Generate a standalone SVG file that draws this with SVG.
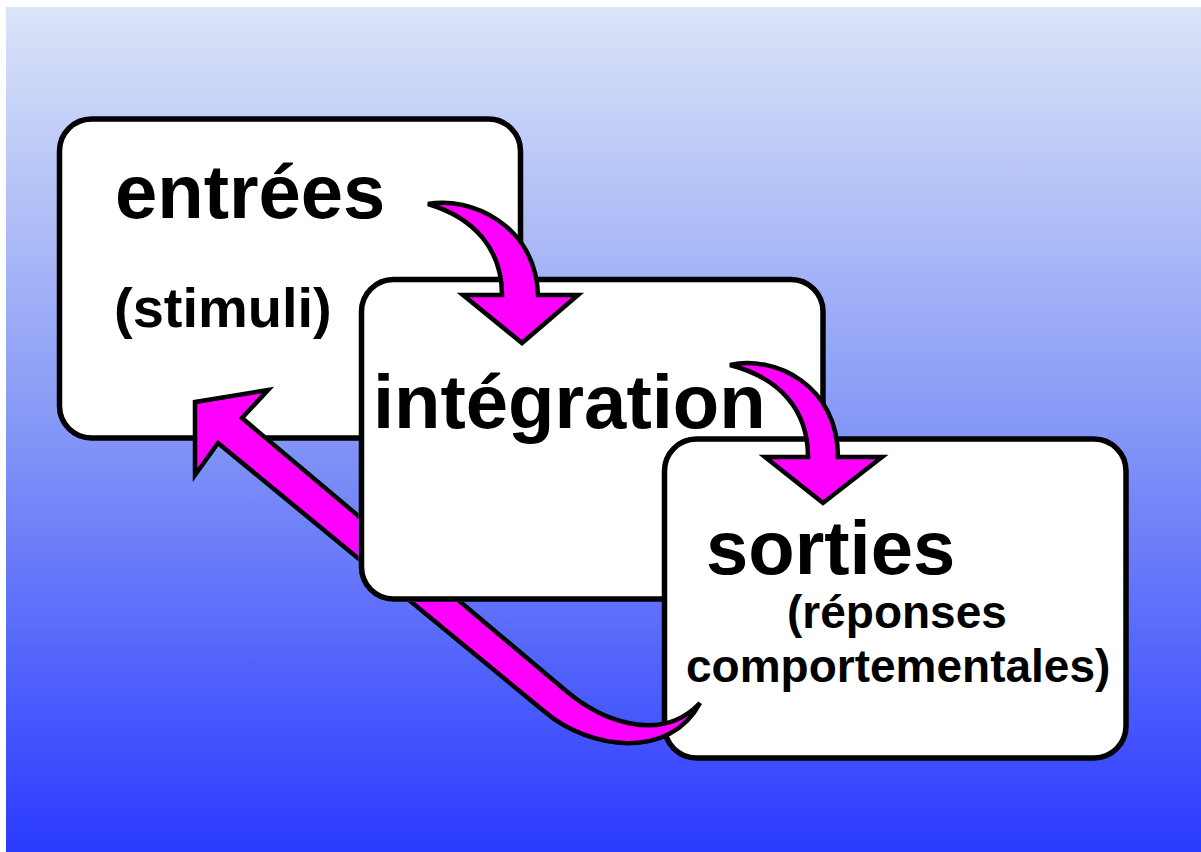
<svg xmlns="http://www.w3.org/2000/svg" width="1201" height="852" viewBox="0 0 1201 852">
<style>
.box{fill:#fff;stroke:#000;stroke-width:5.5}
.big{font-family:"Liberation Sans",Arial,sans-serif;font-weight:bold;font-size:76px;fill:#000}
.mid{font-family:"Liberation Sans",Arial,sans-serif;font-weight:bold;font-size:56px;fill:#000}
.small{font-family:"Liberation Sans",Arial,sans-serif;font-weight:bold;font-size:46px;fill:#000}
.arrow{fill:#ff00ff;stroke:#000;stroke-width:4.5;stroke-linejoin:miter}
</style>
<defs>
<linearGradient id="bg" x1="0" y1="0" x2="0" y2="1">
<stop offset="0" stop-color="#dbe4f8"/>
<stop offset="0.5" stop-color="#8497f6"/>
<stop offset="1" stop-color="#2a3aff"/>
</linearGradient>
<clipPath id="notBox2">
<path clip-rule="evenodd" d="M0,0H1201V852H0Z M391.5,276.5H792.5A32,32 0 0 1 826,309V569A32,32 0 0 1 792.5,602H391.5A32,32 0 0 1 358.5,569V309A32,32 0 0 1 391.5,276.5Z"/>
</clipPath>
</defs>
<rect x="0" y="0" width="1201" height="852" fill="#fff"/>
<rect x="6" y="7" width="1195" height="845" fill="url(#bg)"/>
<g id="node-entrees">
<rect class="box" x="59.5" y="119" width="461" height="319" rx="32"/>
<text class="big" x="115" y="218">entrées</text>
<text class="mid" x="114" y="327">(stimuli)</text>
</g>
<g id="node-integration">
<rect class="box" x="361.5" y="279.5" width="461.5" height="319.5" rx="32"/>
<text class="big" x="373" y="428">intégration</text>
</g>
<g id="node-sorties">
<rect class="box" x="664.5" y="439" width="461.5" height="319" rx="32"/>
<text class="big" x="706" y="574">sorties</text>
<text class="small" x="787" y="628">(réponses</text>
<text class="small" x="686" y="682">comportementales)</text>
</g>
<g id="connectors">
<path id="arrow-entrees-integration" class="arrow" d="M428,204 C470,196 536,225 538,295 L578,295 L522,343 L463,295 L502,295 C502,250 475,218 428,204 Z"/>
<path id="arrow-integration-sorties" class="arrow" d="M730,365 C775,355 838,385 838,457 L882,457 L823,503 L765,457 L808,457 C808,410 780,378 730,365 Z"/>
<path id="arrow-sorties-entrees" class="arrow" clip-path="url(#notBox2)" d="M195,402 L268,390 L242,418 L565,690 C600,720 660,745 700,703 C670,760 590,750 545,712 L218,443 L195,475 Z"/>
</g>
</svg>
